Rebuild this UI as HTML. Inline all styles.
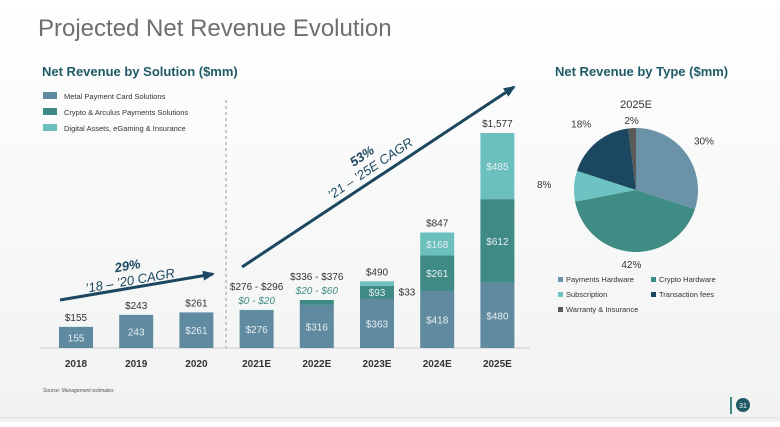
<!DOCTYPE html>
<html><head><meta charset="utf-8"><style>
body{margin:0;width:780px;height:422px;overflow:hidden;background:#fff;font-family:"Liberation Sans",sans-serif}
svg text{font-family:"Liberation Sans",sans-serif}
</style></head><body>
<svg id="c" width="780" height="422">
<defs><linearGradient id="bg" x1="0" y1="0" x2="0" y2="1"><stop offset="0" stop-color="#fff"/><stop offset="1" stop-color="#f1f2f2"/></linearGradient>
<marker id="ah" markerUnits="userSpaceOnUse" markerWidth="12" markerHeight="10" refX="10" refY="5" orient="auto"><path d="M0,0 L12,5 L0,10 z" fill="#1b4860"/></marker></defs>
<rect x="0" y="0" width="780" height="422" fill="url(#bg)"/>
<text x="38" y="36" font-size="24" fill="#6e6e6e">Projected Net Revenue Evolution</text>
<text x="42" y="76" font-size="13" font-weight="bold" fill="#1f5a66">Net Revenue by Solution ($mm)</text>
<text x="555" y="76" font-size="13" font-weight="bold" fill="#1f5a66">Net Revenue by Type ($mm)</text>
<g>
<rect x="43" y="92" width="14" height="7" fill="#5f8aa0"/><text x="64" y="99" font-size="7.5" fill="#333">Metal Payment Card Solutions</text>
<rect x="43" y="108" width="14" height="7" fill="#3f8a84"/><text x="64" y="115" font-size="7.5" fill="#333">Crypto &amp; Arculus Payments Solutions</text>
<rect x="43" y="124" width="14" height="7" fill="#6bbfbd"/><text x="64" y="131" font-size="7.5" fill="#333">Digital Assets, eGaming &amp; Insurance</text>
</g>
<line x1="226" y1="100" x2="226" y2="350" stroke="#999" stroke-dasharray="3,3"/>
<line x1="40" y1="348" x2="530" y2="348" stroke="#ccc"/>
<g id="bars"></g>
<line x1="60" y1="300" x2="213" y2="274" stroke="#1b4860" stroke-width="3" marker-end="url(#ah)"/>
<g transform="translate(130,280) rotate(-10)"><text x="0" y="-10" text-anchor="middle" font-size="13" font-weight="bold" font-style="italic" fill="#1b4860">29%</text><text x="0" y="5" text-anchor="middle" font-size="13" font-style="italic" fill="#1b4860">’18 – ’20 CAGR</text></g>
<line x1="242" y1="267" x2="514" y2="87" stroke="#1b4860" stroke-width="3" marker-end="url(#ah)"/>
<g transform="translate(370,168) rotate(-34)"><text x="0" y="-10" text-anchor="middle" font-size="13" font-weight="bold" font-style="italic" fill="#1b4860">53%</text><text x="0" y="5" text-anchor="middle" font-size="13" font-style="italic" fill="#1b4860">’21 – ’25E CAGR</text></g>
<text x="636" y="108" text-anchor="middle" font-size="11" fill="#333">2025E</text>
<g id="pie"></g>
<g font-size="7.5" fill="#333">
<rect x="558" y="277" width="5" height="5" fill="#6b93a8"/><text x="566" y="282">Payments Hardware</text>
<rect x="651" y="277" width="5" height="5" fill="#3e8c84"/><text x="659" y="282">Crypto Hardware</text>
<rect x="558" y="292" width="5" height="5" fill="#6cc3c2"/><text x="566" y="297">Subscription</text>
<rect x="651" y="292" width="5" height="5" fill="#1b4860"/><text x="659" y="297">Transaction fees</text>
<rect x="558" y="307" width="5" height="5" fill="#5a5a55"/><text x="566" y="312">Warranty &amp; Insurance</text>
</g>
<text x="43" y="392" font-size="5" font-style="italic" fill="#555">Source: Management estimates</text>
<line x1="0" y1="418" x2="780" y2="418" stroke="#ddd"/>
<line x1="731" y1="397" x2="731" y2="414" stroke="#3f8a84" stroke-width="2"/>
<circle cx="743" cy="405" r="7" fill="#1f5a66"/>
<text x="743" y="408" text-anchor="middle" font-size="7" fill="#fff">31</text>
</svg>
<script>
const categories=["2018","2019","2020","2021E","2022E","2023E","2024E","2025E"];
const metal=[155,243,261,276,316,363,418,480];
const crypto=[0,0,0,3,36,93,261,612];
const digital=[0,0,0,0,0,33,168,485];
const metalLabels=["155","243","$261","$276","$316","$363","$418","$480"];
const cryptoLabels=["","","","","","$93","$261","$612"];
const digitalLabels=["","","","","","","$168","$485"];
const totalLabels=["$155","$243","$261","$276 - $296","$336 - $376","$490","$847","$1,577"];
const pieLabels=["Payments Hardware","Crypto Hardware","Subscription","Transaction fees","Warranty & Insurance"];
const pieValues=[30,42,8,18,2];
const NS="http://www.w3.org/2000/svg";
const base=348,scale=215/1577;
const xc=i=>76+i*60.2, y=v=>base-v*scale, bw=34;
const g=document.getElementById('bars');
function el(t,a,p){const e=document.createElementNS(NS,t);for(const k in a)e.setAttribute(k,a[k]);p.appendChild(e);return e;}
function txt(x,yy,s,a,p){const e=el('text',Object.assign({x:x,y:yy,'text-anchor':'middle'},a),p);e.textContent=s;return e;}
categories.forEach((c,i)=>{
 const x=xc(i)-bw/2;
 const segs=[[metal[i],'#5f8aa0',metalLabels[i],'metal'],[crypto[i],'#3f8a84',cryptoLabels[i],'crypto'],[digital[i],'#6bbfbd',digitalLabels[i],'digital']];
 let acc=0;
 segs.forEach(s=>{if(!s[0])return;
  const r=el('rect',{x:x,y:y(acc+s[0]),width:bw,height:s[0]*scale,fill:s[1]},g);
  
  
  if(s[2])txt(xc(i),y(acc+s[0]/2)+4,s[2],{'font-size':10,fill:'#e6eef2'},g);
  acc+=s[0];});
 const t=txt(xc(i),y(acc)-6-(i==3?14:i==4?14:0),totalLabels[i],{'font-size':10,fill:'#333'},g);
 
 
 if(i==3||i==4)txt(xc(i),y(acc)-6,i==3?'$0 - $20':'$20 - $60',{'font-size':10,'font-style':'italic',fill:'#3f8a84'},g);
 if(i==5)txt(xc(i)+30,y(acc)+14,'$33',{'font-size':10,fill:'#333'},g);
 const l=txt(xc(i),367,c,{'font-size':10,'font-weight':'bold',fill:'#333'},g);
 
 
});
const p=document.getElementById('pie');
const pc=['#6b93a8','#3e8c84','#6cc3c2','#1b4860','#5a5a55'];
const labelR=[84,74,92,86,70];
const cx=636,cy=190,R=62;
const tot=pieValues.reduce((a,b)=>a+b,0);
let a0=-Math.PI/2;
pieValues.forEach((v,i)=>{
 const a1=a0+v/tot*2*Math.PI;
 const large=(a1-a0)>Math.PI?1:0;
 const d=`M${cx},${cy} L${cx+R*Math.cos(a0)},${cy+R*Math.sin(a0)} A${R},${R} 0 ${large} 1 ${cx+R*Math.cos(a1)},${cy+R*Math.sin(a1)} Z`;
 const s=el('path',{d:d,fill:pc[i]},p);
 
 
 const m=(a0+a1)/2, lr=labelR[i];
 txt(cx+lr*Math.cos(m),cy+lr*Math.sin(m)+4,v+'%',{'font-size':10,fill:'#333'},p);
 a0=a1;
});
</script>
</body></html>
